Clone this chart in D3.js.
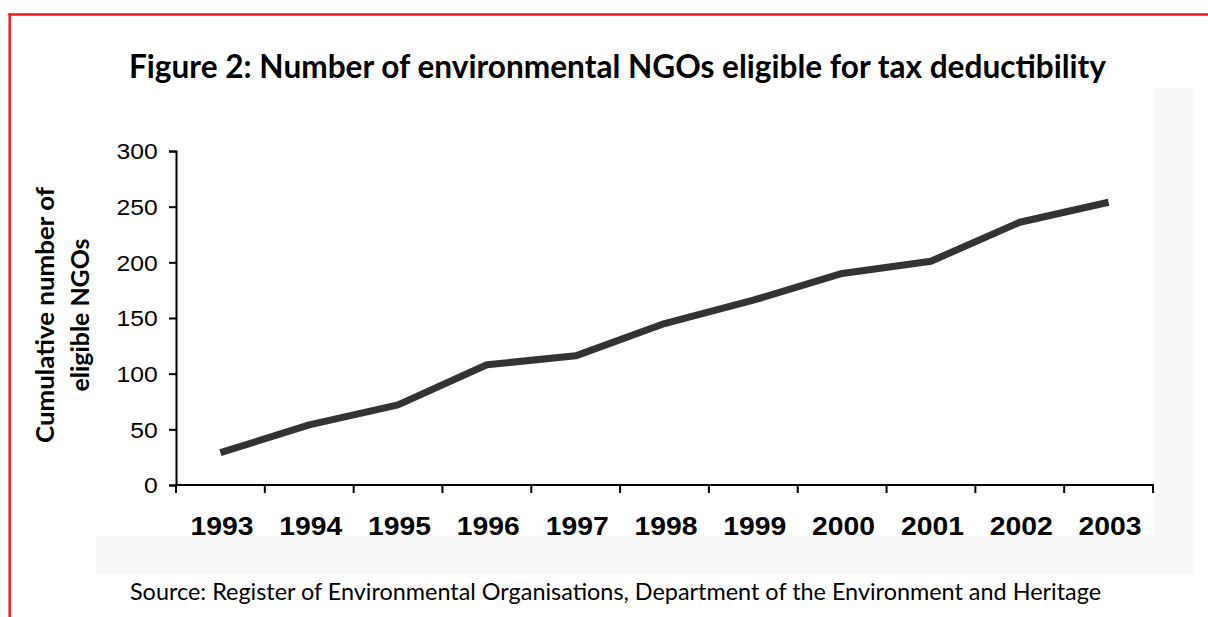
<!DOCTYPE html>
<html>
<head>
<meta charset="utf-8">
<script src="https://cdn.jsdelivr.net/npm/d3@7"></script>
<style>
  html, body { margin: 0; padding: 0; background: #ffffff; }
  svg { display: block; }
</style>
</head>
<body>
<svg id="chart" width="1208" height="617"></svg>
<script>
// ---- data ----
const years = ["1993","1994","1995","1996","1997","1998","1999","2000","2001","2002","2003"];
const ngoCounts = [29, 54, 72, 108, 116, 145, 166, 190, 201, 236, 254];
const yTicks = [0, 50, 100, 150, 200, 250, 300];
const titleText = "Figure 2: Number of environmental NGOs eligible for tax deductibility";
const yTitleLines = ["Cumulative number of", "eligible NGOs"];
const sourceText = "Source: Register of Environmental Organisations, Department of the Environment and Heritage";

// ---- layout ----
const svg = d3.select("#chart");
const plot = { left: 176, right: 1153, top: 151, bottom: 485 };

// background panels
svg.append("rect").attr("x", 96).attr("y", 88).attr("width", 1097).attr("height", 487).attr("fill", "#f8f8f8");
svg.append("rect").attr("x", 96).attr("y", 88).attr("width", 1058).attr("height", 448).attr("fill", "#ffffff");

// red frame
svg.append("line").attr("x1", 8.5).attr("x2", 1208).attr("y1", 14.5).attr("y2", 14.5)
  .attr("stroke", "#ed1c24").attr("stroke-width", 2.5);
svg.append("line").attr("x1", 9.7).attr("x2", 9.7).attr("y1", 13.3).attr("y2", 617)
  .attr("stroke", "#ed1c24").attr("stroke-width", 2.5);

// scales
const x = d3.scaleBand().domain(years).range([plot.left, plot.right]).padding(0);
const y = d3.scaleLinear().domain([0, 300]).range([plot.bottom, plot.top]);

// y axis
const yAxis = svg.append("g").attr("transform", `translate(${plot.left},0)`)
  .call(d3.axisLeft(y).tickValues(yTicks).tickSize(7).tickPadding(0).tickFormat(d3.format("d")));
yAxis.attr("font-family", null);
yAxis.select(".domain").attr("stroke", "#000").attr("stroke-width", 2);
yAxis.selectAll(".tick line").attr("stroke", "#000").attr("stroke-width", 2);
yAxis.selectAll(".tick text")
  .attr("font-family", "'Liberation Sans', Arial, sans-serif")
  .attr("font-size", 21.5)
  .attr("fill", "#000")
  .attr("x", -15.8)
  .attr("dy", "0.36em")
  .attr("transform", "scale(1.15,1)");

// x axis (ticks at band boundaries)
const xAxisG = svg.append("g").attr("transform", `translate(0,${plot.bottom})`);
xAxisG.append("line").attr("x1", plot.left - 1).attr("x2", plot.right + 1).attr("y1", 0).attr("y2", 0)
  .attr("stroke", "#000").attr("stroke-width", 2);
const boundaries = years.map(d => x(d)).concat([x(years[years.length - 1]) + x.bandwidth()]);
xAxisG.selectAll("line.tk").data(boundaries).join("line").attr("class", "tk")
  .attr("x1", d => d).attr("x2", d => d).attr("y1", 0).attr("y2", 8)
  .attr("stroke", "#000").attr("stroke-width", 2);
xAxisG.selectAll("text").data(years).join("text")
  .attr("x", d => x(d) + x.bandwidth() / 2 + 1.5)
  .attr("y", 50)
  .attr("text-anchor", "middle")
  .attr("font-family", "'Liberation Sans', Arial, sans-serif")
  .attr("font-weight", "bold")
  .attr("font-size", 26)
  .attr("textLength", 63)
  .attr("lengthAdjust", "spacingAndGlyphs")
  .attr("fill", "#000")
  .text(d => d);

// line
const line = d3.line().x((d, i) => x(years[i]) + x.bandwidth() / 2).y(d => y(d));
svg.append("path").datum(ngoCounts)
  .attr("d", line)
  .attr("fill", "none")
  .attr("stroke", "#333333")
  .attr("stroke-width", 7)
  .attr("stroke-linejoin", "round");

// title
svg.append("text")
  .attr("x", 129).attr("y", 78)
  .attr("font-family", "Lato, 'Open Sans', sans-serif")
  .attr("font-weight", "bold")
  .attr("font-size", 32)
  .attr("textLength", 977)
  .attr("lengthAdjust", "spacingAndGlyphs")
  .attr("fill", "#000")
  .text(titleText);

// y title
const yt = svg.append("g").attr("transform", "translate(0,315) rotate(-90)");
yt.selectAll("text").data(yTitleLines).join("text")
  .attr("x", 0)
  .attr("y", (d, i) => i === 0 ? 54 : 89)
  .attr("text-anchor", "middle")
  .attr("font-family", "Lato, 'Open Sans', sans-serif")
  .attr("font-weight", "bold")
  .attr("font-size", 25)
  .attr("textLength", (d, i) => i === 0 ? 256 : 153)
  .attr("lengthAdjust", "spacingAndGlyphs")
  .attr("fill", "#000")
  .text(d => d);

// source
svg.append("text")
  .attr("x", 130).attr("y", 600)
  .attr("font-family", "Lato, 'Open Sans', sans-serif")
  .attr("font-size", 23)
  .attr("textLength", 971)
  .attr("lengthAdjust", "spacingAndGlyphs")
  .attr("fill", "#000")
  .text(sourceText);
</script>
</body>
</html>
